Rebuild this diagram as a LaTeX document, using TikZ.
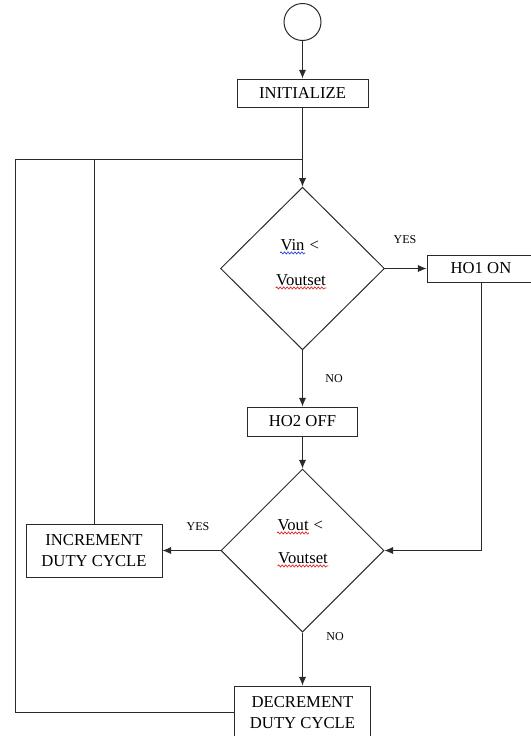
\documentclass[tikz,border=0pt]{standalone}
\usepackage{fontspec}
\setmainfont{Liberation Serif}
\newfontfamily\chartfont{Liberation Serif}
\usetikzlibrary{arrows.meta,positioning,calc,shapes.geometric,decorations.pathmorphing}
\definecolor{lineg}{HTML}{2A2A2A}
\definecolor{spellred}{HTML}{E02020}
\definecolor{spellblue}{HTML}{2040E0}
\newcommand{\mainsize}{\chartfont\fontsize{12.5}{15.5}\selectfont}
\newcommand{\labsize}{\chartfont\fontsize{9}{11}\selectfont}

\begin{document}
\begin{tikzpicture}[x=0.75pt,y=-0.75pt,>={Latex[length=6.5pt,width=5.5pt]},
  line width=0.75pt,draw=lineg,
  procbox/.style={draw=lineg,rectangle,inner sep=0pt,font=\mainsize,align=center},
  decbox/.style={draw=lineg,diamond,inner sep=0pt,aspect=1},
  condtext/.style={font=\mainsize,inner sep=0pt,anchor=base},
  spellwave/.style={draw=#1,line width=0.5pt,decorate,
    decoration={snake,amplitude=0.8pt,segment length=2.6pt}},
  ynlabel/.style={font=\labsize,inner sep=0pt}]
\useasboundingbox (0,0) rectangle (531,736);
% nodes
\node[draw=lineg,circle,minimum size=27.75pt,inner sep=0pt] (start) at (302.5,22) {};
\node[procbox,minimum width=98.25pt,minimum height=21pt] (init) at (302.5,93) {INITIALIZE};
\coordinate (join) at (302.5,159);
\coordinate (outer) at (15,159);
\node[decbox,minimum width=123pt,minimum height=122pt] (vin) at (302.5,268.5) {};
\node[procbox,minimum width=81pt,minimum height=20.25pt] (ho1) at (481,268.5) {HO1 ON};
\node[procbox,minimum width=82.5pt,minimum height=21.75pt] (ho2) at (302.5,421.5) {HO2 OFF};
\node[decbox,minimum width=122.25pt,minimum height=122.25pt] (vout) at (302.5,550.5) {};
\node[procbox,minimum width=102pt,minimum height=39.75pt] (inc) at (94,550.5) {INCREMENT\\DUTY CYCLE};
\node[procbox,minimum width=102pt,minimum height=39.75pt] (dec) at (302.5,712.5) {DECREMENT\\DUTY CYCLE};
% texts of the two decisions
\node[condtext,anchor=base west] (vinw) at (280,250) {Vin};
\node[condtext,anchor=base west] (vinlt) at ([xshift=3pt]vinw.base east) {<};
\node[condtext] (vinset) at (301,285) {Voutset};
\node[condtext,anchor=base west] (voutw) at (277,530) {Vout};
\node[condtext,anchor=base west] (voutlt) at ([xshift=3pt]voutw.base east) {<};
\node[condtext] (voutset) at (303,563) {Voutset};
% labels
\node[ynlabel] (yes1) at (405,240) {YES};
\node[ynlabel] (no1) at (334,379) {NO};
\node[ynlabel] (yes2) at (198,527) {YES};
\node[ynlabel] (no2) at (335,637) {NO};
% spelling marks
\draw[spellwave=spellblue] ([yshift=-2.2pt]vinw.base west)--([yshift=-2.2pt]vinw.base east);
\draw[spellwave=spellred] ([yshift=-2.2pt]vinset.base west)--([yshift=-2.2pt]vinset.base east);
\draw[spellwave=spellred] ([yshift=-2.2pt]voutw.base west)--([yshift=-2.2pt]voutw.base east);
\draw[spellwave=spellred] ([yshift=-2.2pt]voutset.base west)--([yshift=-2.2pt]voutset.base east);
% connectors
\draw[->] (start)--(init);
\draw (init)--(join);
\draw[->] (join)--(vin.north);
\draw[->] (vin.east)--(ho1.west);
\draw[->] (vin.south)--(ho2.north);
\draw[->] (ho2.south)--(vout.north);
\draw[->] (ho1.south)|-(vout.east);
\draw[->] (vout.west)--(inc.east);
\draw[->] (vout.south)--(dec.north);
\draw (inc.north)|-(join);
\draw (dec.west)-|(outer)--(join);
\end{tikzpicture}
\end{document}
